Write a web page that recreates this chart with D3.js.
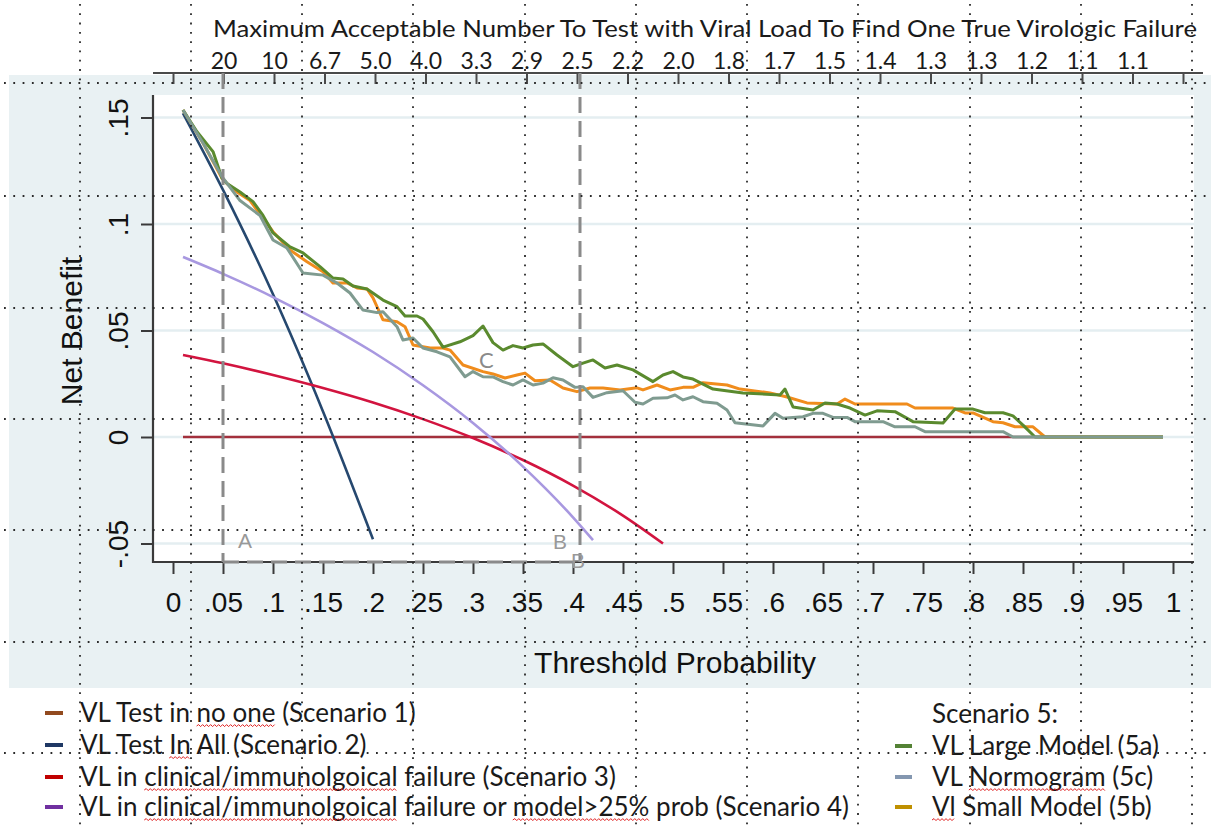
<!DOCTYPE html>
<html>
<head>
<meta charset="utf-8">
<script src="https://cdn.jsdelivr.net/npm/d3@7"></script>
<style>
  body { margin: 0; background: #fff; }
  svg { display: block; }
</style>
</head>
<body>
<svg id="chart" width="1211" height="825"></svg>
<script>
// ---- axis ticks and labels ----
const xTickValues = [0, 0.05, 0.1, 0.15, 0.2, 0.25, 0.3, 0.35, 0.4, 0.45, 0.5, 0.55, 0.6, 0.65, 0.7, 0.75, 0.8, 0.85, 0.9, 0.95, 1];
const xTickLabels = ["0", ".05", ".1", ".15", ".2", ".25", ".3", ".35", ".4", ".45", ".5", ".55", ".6", ".65", ".7", ".75", ".8", ".85", ".9", ".95", "1"];
const yTickValues = [-0.05, 0, 0.05, 0.1, 0.15];
const yTickLabels = ["-.05", "0", ".05", ".1", ".15"];
// number needed to test (1 / threshold) shown on the top axis
const nntLabels = ["", "20", "10", "6.7", "5.0", "4.0", "3.3", "2.9", "2.5", "2.2", "2.0", "1.8", "1.7", "1.5", "1.4", "1.3", "1.3", "1.2", "1.1", "1.1", ""];

// ---- decision curves: threshold probability vs net benefit ----
const noneP = [0.01, 0.99];
const noneNB = [0, 0];

const allP = [0.01, 0.05, 0.10, 0.15, 0.20];
const allNB = [0.152, 0.116, 0.067, 0.012, -0.048];

const clinP = [0.01, 0.05, 0.10, 0.15, 0.20, 0.25, 0.30, 0.35, 0.40, 0.45, 0.49];
const clinNB = [0.0385, 0.0346, 0.0291, 0.0230, 0.0162, 0.0084, -0.0005, -0.0108, -0.0228, -0.0369, -0.0500];

const comboP = [0.01, 0.05, 0.10, 0.15, 0.20, 0.25, 0.30, 0.35, 0.40, 0.42];
const comboNB = [0.0845, 0.0766, 0.0657, 0.0535, 0.0399, 0.0243, 0.0066, -0.0139, -0.0377, -0.0484];

const largeP = [0.01, 0.024, 0.040, 0.049, 0.054, 0.067, 0.080, 0.090, 0.100, 0.117, 0.130, 0.147, 0.160, 0.170, 0.180, 0.194, 0.210, 0.224, 0.232, 0.244, 0.250, 0.260, 0.270, 0.287, 0.300, 0.310, 0.320, 0.330, 0.340, 0.350, 0.360, 0.370, 0.384, 0.400, 0.410, 0.420, 0.432, 0.444, 0.460, 0.480, 0.490, 0.500, 0.510, 0.520, 0.540, 0.570, 0.607, 0.612, 0.620, 0.640, 0.652, 0.664, 0.677, 0.692, 0.704, 0.722, 0.740, 0.770, 0.782, 0.800, 0.812, 0.830, 0.840, 0.850, 0.862, 0.99];
const largeNB = [0.1535, 0.1433, 0.1340, 0.1215, 0.1190, 0.1150, 0.1105, 0.1040, 0.0958, 0.0893, 0.0864, 0.0800, 0.0746, 0.0742, 0.0709, 0.0695, 0.0643, 0.0612, 0.0568, 0.0568, 0.0554, 0.0494, 0.0422, 0.0447, 0.0476, 0.0521, 0.0443, 0.0408, 0.0429, 0.0418, 0.0432, 0.0437, 0.0385, 0.0330, 0.0347, 0.0362, 0.0324, 0.0338, 0.0315, 0.0260, 0.0291, 0.0307, 0.0282, 0.0272, 0.0225, 0.0207, 0.0197, 0.0225, 0.0141, 0.0127, 0.0160, 0.0155, 0.0136, 0.0103, 0.0123, 0.0119, 0.0072, 0.0066, 0.0131, 0.0131, 0.0114, 0.0114, 0.0099, 0.0056, 0, 0];

const smallP = [0.01, 0.030, 0.049, 0.054, 0.064, 0.077, 0.090, 0.100, 0.117, 0.134, 0.150, 0.160, 0.174, 0.184, 0.194, 0.200, 0.210, 0.224, 0.232, 0.240, 0.257, 0.270, 0.277, 0.290, 0.310, 0.320, 0.332, 0.344, 0.352, 0.362, 0.377, 0.390, 0.404, 0.417, 0.430, 0.447, 0.464, 0.470, 0.484, 0.497, 0.510, 0.520, 0.530, 0.554, 0.567, 0.597, 0.614, 0.634, 0.664, 0.672, 0.682, 0.734, 0.742, 0.780, 0.792, 0.800, 0.820, 0.830, 0.842, 0.860, 0.872, 0.99];
const smallNB = [0.1535, 0.1380, 0.1215, 0.1190, 0.1150, 0.1110, 0.1028, 0.0964, 0.0878, 0.0823, 0.0776, 0.0723, 0.0723, 0.0700, 0.0695, 0.0653, 0.0550, 0.0541, 0.0518, 0.0432, 0.0418, 0.0418, 0.0408, 0.0338, 0.0307, 0.0296, 0.0277, 0.0291, 0.0300, 0.0264, 0.0268, 0.0230, 0.0213, 0.0230, 0.0230, 0.0221, 0.0231, 0.0221, 0.0244, 0.0221, 0.0233, 0.0233, 0.0255, 0.0244, 0.0225, 0.0207, 0.0188, 0.0160, 0.0155, 0.0178, 0.0155, 0.0155, 0.0136, 0.0136, 0.0113, 0.0113, 0.0072, 0.0067, 0.0048, 0.0048, 0, 0];

const nomoP = [0.01, 0.030, 0.049, 0.067, 0.087, 0.100, 0.114, 0.130, 0.150, 0.164, 0.177, 0.190, 0.204, 0.210, 0.224, 0.230, 0.240, 0.250, 0.264, 0.277, 0.292, 0.300, 0.310, 0.320, 0.330, 0.340, 0.350, 0.360, 0.370, 0.380, 0.390, 0.402, 0.410, 0.420, 0.434, 0.450, 0.462, 0.470, 0.480, 0.494, 0.502, 0.510, 0.520, 0.530, 0.544, 0.554, 0.562, 0.590, 0.602, 0.610, 0.630, 0.640, 0.650, 0.660, 0.674, 0.682, 0.710, 0.722, 0.742, 0.752, 0.830, 0.840, 0.99];
const nomoNB = [0.1535, 0.1380, 0.1222, 0.1110, 0.1040, 0.0925, 0.0887, 0.0770, 0.0760, 0.0723, 0.0676, 0.0596, 0.0584, 0.0588, 0.0518, 0.0455, 0.0465, 0.0418, 0.0400, 0.0376, 0.0283, 0.0307, 0.0283, 0.0282, 0.0260, 0.0244, 0.0268, 0.0244, 0.0253, 0.0278, 0.0268, 0.0233, 0.0236, 0.0186, 0.0208, 0.0217, 0.0163, 0.0155, 0.0182, 0.0184, 0.0197, 0.0174, 0.0189, 0.0166, 0.0158, 0.0127, 0.0067, 0.0052, 0.0111, 0.0088, 0.0095, 0.0111, 0.0111, 0.0092, 0.0092, 0.0072, 0.0072, 0.0048, 0.0048, 0.0025, 0.0025, 0, 0];

// reference thresholds marked with dashed guides
const guideP = [0.05, 0.407];

// ---- legend ----
const legendLeftLabels = [
  "VL Test in no one (Scenario 1)",
  "VL Test In All (Scenario 2)",
  "VL in clinical/immunolgoical failure (Scenario 3)",
  "VL in clinical/immunolgoical failure or model>25% prob (Scenario 4)"
];
const legendLeftColors = ["#924a1f", "#1f3864", "#c00000", "#7030a0"];
const legendLeftFlagged = [["no one"], ["In"], ["clinical/immunolgoical"], ["clinical/immunolgoical", "model>25%"]];
const legendRightTitle = "Scenario 5:";
const legendRightLabels = ["VL Large Model (5a)", "VL Normogram (5c)", "Vl Small Model (5b)"];
const legendRightColors = ["#548235", "#8497b0", "#bf9000"];
const legendRightFlagged = [[], ["Normogram"], ["Vl"]];

// ---- drawing ----
const svg = d3.select("#chart");
const W = 1211, H = 825;

const x = d3.scaleLinear().domain([0, 1]).range([173, 1173]);
const xTop = d3.scaleLinear().domain([0, 1]).range([173, 1183]);
const y = d3.scaleLinear().domain([-0.05, 0.15]).range([543.5, 117.5]);

const plotL = 153, plotR = 1194, plotT = 95, plotB = 562;
const axisColor = "#3a3a3a";

svg.append("rect").attr("width", W).attr("height", H).attr("fill", "#ffffff");
svg.append("rect").attr("x", 9).attr("y", 75).attr("width", W - 9).attr("height", 613).attr("fill", "#e9f1f3");
svg.append("rect").attr("x", plotL).attr("y", plotT).attr("width", plotR - plotL).attr("height", plotB - plotT).attr("fill", "#ffffff");

// horizontal grid
svg.append("g").selectAll("line").data(yTickValues).join("line")
  .attr("x1", plotL).attr("x2", plotR)
  .attr("y1", d => y(d)).attr("y2", d => y(d))
  .attr("stroke", "#e4eef1").attr("stroke-width", 2.5);

// bottom axis
const gx = svg.append("g").attr("transform", `translate(0,${plotB})`)
  .call(d3.axisBottom(x).tickValues(xTickValues)
    .tickFormat((d, i) => xTickLabels[i]).tickSize(12).tickSizeOuter(0).tickPadding(18));
gx.select(".domain").remove();
gx.selectAll(".tick line").attr("stroke", axisColor).attr("stroke-width", 2);
gx.selectAll(".tick text").attr("fill", "#111").attr("font-family", "'Liberation Sans', Arial, sans-serif").attr("font-size", 28);

// left axis
const gy = svg.append("g").attr("transform", `translate(${plotL},0)`)
  .call(d3.axisLeft(y).tickValues(yTickValues)
    .tickFormat((d, i) => yTickLabels[i]).tickSize(12).tickSizeOuter(0));
gy.select(".domain").remove();
gy.selectAll(".tick line").attr("stroke", axisColor).attr("stroke-width", 2);
gy.selectAll(".tick text")
  .attr("x", 0).attr("y", -25).attr("dy", null)
  .attr("transform", "rotate(-90)")
  .attr("text-anchor", "middle")
  .attr("fill", "#111").attr("font-family", "'Liberation Sans', Arial, sans-serif").attr("font-size", 28);

svg.append("line").attr("x1", plotL).attr("x2", plotL).attr("y1", plotT).attr("y2", plotB + 1)
  .attr("stroke", axisColor).attr("stroke-width", 2.2);
svg.append("line").attr("x1", plotL - 1).attr("x2", plotR).attr("y1", plotB).attr("y2", plotB)
  .attr("stroke", axisColor).attr("stroke-width", 2.2);

// axis titles
svg.append("text").attr("x", 675).attr("y", 673).attr("text-anchor", "middle")
  .attr("font-family", "'Liberation Sans', Arial, sans-serif").attr("font-size", 30).attr("fill", "#111")
  .text("Threshold Probability");
svg.append("text").attr("transform", "translate(82,331) rotate(-90)").attr("text-anchor", "middle")
  .attr("font-family", "'Liberation Sans', Arial, sans-serif").attr("font-size", 30).attr("fill", "#111")
  .text("Net Benefit");

// top axis: number needed to test
const gTop = svg.append("g").attr("transform", "translate(0,73)")
  .call(d3.axisTop(xTop).tickValues(xTickValues)
    .tickFormat((d, i) => nntLabels[i]).tickSizeInner(-11).tickSizeOuter(0).tickPadding(4));
gTop.select(".domain").remove();
gTop.selectAll(".tick line").attr("stroke", "#4a4a4a").attr("stroke-width", 2);
gTop.selectAll(".tick text").attr("fill", "#1a1a1a").attr("font-family", "Lato, 'Open Sans', sans-serif").attr("font-size", 23);
svg.append("line").attr("x1", 153).attr("x2", 1203).attr("y1", 73).attr("y2", 73)
  .attr("stroke", "#4a4a4a").attr("stroke-width", 2.2);
svg.append("text").attr("x", 213).attr("y", 37)
  .attr("font-family", "Lato, 'Open Sans', sans-serif").attr("font-size", 23).attr("fill", "#1a1a1a")
  .attr("textLength", 984).attr("lengthAdjust", "spacingAndGlyphs")
  .text("Maximum Acceptable Number To Test with Viral Load To Find One True Virologic Failure");

// curves
const line = d3.line().x(d => x(d[0])).y(d => y(d[1]));
const smooth = d3.line().x(d => x(d[0])).y(d => y(d[1])).curve(d3.curveMonotoneX);
const zipPts = (ps, vs) => ps.map((p, i) => [p, vs[i]]);

const series = [
  { pts: zipPts(noneP, noneNB), color: "#a3303c", w: 2.6, gen: line },
  { pts: zipPts(allP, allNB), color: "#26486f", w: 2.6, gen: smooth },
  { pts: zipPts(clinP, clinNB), color: "#d2143f", w: 2.6, gen: smooth },
  { pts: zipPts(comboP, comboNB), color: "#a898e0", w: 2.6, gen: smooth },
  { pts: zipPts(smallP, smallNB), color: "#f08c1c", w: 3, gen: line },
  { pts: zipPts(largeP, largeNB), color: "#5a8a2e", w: 3, gen: line },
  { pts: zipPts(nomoP, nomoNB), color: "#7f9b90", w: 3, gen: line }
];
svg.append("g").selectAll("path").data(series).join("path")
  .attr("d", d => d.gen(d.pts))
  .attr("fill", "none").attr("stroke", d => d.color).attr("stroke-width", d => d.w)
  .attr("stroke-linejoin", "round").attr("stroke-linecap", "butt");

// dashed guides
const guides = svg.append("g").attr("stroke", "#8a8a8a").attr("stroke-width", 3).attr("stroke-dasharray", "16,8");
guides.selectAll("line.v").data(guideP).join("line").attr("class", "v")
  .attr("x1", d => x(d)).attr("x2", d => x(d)).attr("y1", 73).attr("y2", plotB);
guides.append("line").attr("x1", x(guideP[0])).attr("x2", x(guideP[1])).attr("y1", plotB).attr("y2", plotB);

// point labels
const ann = svg.append("g").attr("fill", "#999").attr("font-family", "'Liberation Sans', Arial, sans-serif").attr("font-size", 21);
ann.append("text").attr("x", 238).attr("y", 548).text("A");
ann.append("text").attr("x", 553).attr("y", 549).text("B");
ann.append("text").attr("x", 571).attr("y", 568).text("B");
svg.append("text").attr("x", 479).attr("y", 368).attr("fill", "#8a8a8a")
  .attr("font-family", "Lato, 'Open Sans', sans-serif").attr("font-size", 22).text("C");

// legend
function squiggle(g, textNode, tx, ty, word) {
  const s = textNode.textContent;
  const i = s.indexOf(word);
  if (i < 0) return;
  const x0 = tx + (i > 0 ? textNode.getSubStringLength(0, i) : 0);
  const w = textNode.getSubStringLength(i, word.length);
  let d = `M${x0},${ty + 4}`;
  let up = true;
  for (let xx = x0 + 2; xx <= x0 + w; xx += 2) {
    d += ` L${xx},${ty + (up ? 2.6 : 4.6)}`;
    up = !up;
  }
  g.append("path").attr("d", d).attr("fill", "none").attr("stroke", "#e02020").attr("stroke-width", 1);
}

const leg = svg.append("g").attr("font-family", "Lato, 'Open Sans', sans-serif").attr("font-size", 26).attr("fill", "#1a1a1a");
const leftRowsY = [713, 745, 777, 807];
legendLeftLabels.forEach((lab, i) => {
  const cy = leftRowsY[i];
  leg.append("line").attr("x1", 45).attr("x2", 63).attr("y1", cy).attr("y2", cy)
    .attr("stroke", legendLeftColors[i]).attr("stroke-width", 4);
  const t = leg.append("text").attr("x", 80).attr("y", cy + 9).text(lab);
  legendLeftFlagged[i].forEach(wd => squiggle(leg, t.node(), 80, cy + 9, wd));
});
leg.append("text").attr("x", 932).attr("y", 723).text(legendRightTitle);
const rightRowsY = [746, 777, 807];
legendRightLabels.forEach((lab, i) => {
  const cy = rightRowsY[i];
  leg.append("line").attr("x1", 895).attr("x2", 912).attr("y1", cy).attr("y2", cy)
    .attr("stroke", legendRightColors[i]).attr("stroke-width", 4);
  const t = leg.append("text").attr("x", 932).attr("y", cy + 9).text(lab);
  legendRightFlagged[i].forEach(wd => squiggle(leg, t.node(), 932, cy + 9, wd));
});

// layout guide dots over the whole canvas
const dotX = [80, 191, 302, 413, 525, 636, 747, 858, 970, 1081, 1192];
const dotY = [83, 196, 308, 419, 530, 642, 753];
const dots = svg.append("g").attr("stroke", "#2a2a2a").attr("stroke-width", 1.8).attr("stroke-dasharray", "1.8,7.5");
dots.selectAll("line.dx").data(dotX).join("line").attr("class", "dx")
  .attr("x1", d => d).attr("x2", d => d).attr("y1", 4).attr("y2", H);
dots.selectAll("line.dy").data(dotY).join("line").attr("class", "dy")
  .attr("x1", 4).attr("x2", W).attr("y1", d => d).attr("y2", d => d);
</script>
</body>
</html>
